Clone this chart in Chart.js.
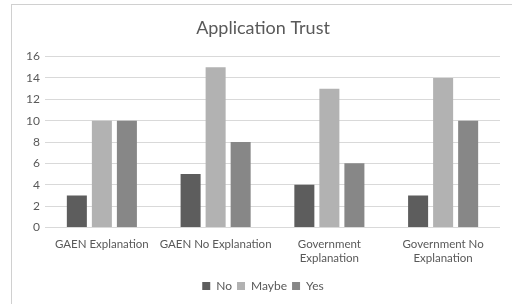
<!DOCTYPE html>
<html>
<head>
<meta charset="utf-8">
<script src="https://cdn.jsdelivr.net/npm/chart.js@4/dist/chart.umd.min.js"></script>
<style>
html,body{margin:0;padding:0;background:#fff;}
#wrap{width:512px;height:304px;position:relative;}
</style>
</head>
<body>
<div id="wrap"><canvas id="c" width="512" height="304"></canvas></div>
<script>
const categories = [["GAEN Explanation"], ["GAEN No Explanation"], ["Government", "Explanation"], ["Government No", "Explanation"]];
const seriesNames = ["No", "Maybe", "Yes"];
const noValues = [3, 5, 4, 3];
const maybeValues = [10, 15, 13, 14];
const yesValues = [10, 8, 6, 10];
const yTicks = [0, 2, 4, 6, 8, 10, 12, 14, 16];

const colors = ["#5d5d5d", "#b2b2b2", "#878787"];
const fontFam = "Lato, 'Liberation Sans', sans-serif";

const borderPlugin = {
  id: 'frame',
  beforeDraw(chart) {
    const ctx = chart.ctx;
    ctx.save();
    ctx.fillStyle = '#fff';
    ctx.fillRect(0, 0, chart.width, chart.height);
    ctx.strokeStyle = '#d0d0d0';
    ctx.lineWidth = 1;
    ctx.strokeRect(11.5, 4.5, 520, 320);
    ctx.restore();
  }
};

new Chart(document.getElementById('c'), {
  type: 'bar',
  data: {
    labels: categories,
    datasets: [
      { label: seriesNames[0], data: noValues, backgroundColor: colors[0] },
      { label: seriesNames[1], data: maybeValues, backgroundColor: colors[1] },
      { label: seriesNames[2], data: yesValues, backgroundColor: colors[2] }
    ]
  },
  options: {
    responsive: false,
    animation: false,
    devicePixelRatio: 1,
    layout: { padding: { left: 26, right: 12, top: 0, bottom: 2 } },
    datasets: { bar: { categoryPercentage: 0.66, barPercentage: 0.8 } },
    plugins: {
      title: {
        display: true,
        text: 'Application Trust',
        color: '#595959',
        font: { family: fontFam, size: 18, weight: 'normal' },
        padding: { top: 17, bottom: 18 }
      },
      legend: {
        position: 'bottom',
        labels: {
          color: '#595959',
          font: { family: fontFam, size: 12 },
          boxWidth: 8, boxHeight: 8,
          padding: 5
        }
      },
      tooltip: { enabled: false }
    },
    scales: {
      x: {
        afterFit(s) { s.height += 8; },
        grid: { display: false },
        border: { display: false },
        ticks: { color: '#595959', font: { family: fontFam, size: 11.5, lineHeight: 1.2 }, maxRotation: 0, autoSkip: false, padding: 2 }
      },
      y: {
        min: 0, max: 16,
        afterFit(s) { s.width = 19; },
        afterBuildTicks(s) { s.ticks = yTicks.map(v => ({ value: v })); },
        grid: { color: '#d9d9d9', drawTicks: false },
        border: { display: false },
        ticks: { color: '#595959', font: { family: fontFam, size: 12 }, padding: 5 }
      }
    }
  },
  plugins: [borderPlugin]
});
</script>
</body>
</html>
